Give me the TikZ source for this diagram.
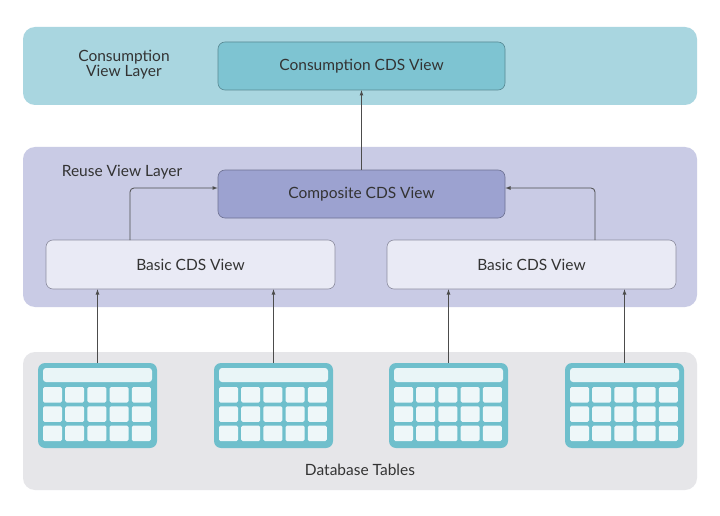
\documentclass[tikz,border=0pt]{standalone}
\usepackage{fontspec}
\setmainfont{Lato}
\begin{document}
\begin{tikzpicture}[x=1pt,y=-1pt,
  layer/.style={rounded corners=12pt},
  box/.style={rounded corners=7pt,draw=#1!70!black,line width=0.6pt,font=\fontsize{15.5}{18}\selectfont,text=black!80},
  lbl/.style={font=\fontsize{15.5}{18}\selectfont,text=black!80,align=center},
  arr/.style={-latex,draw=black!70,line width=0.8pt,rounded corners=4pt}]
\definecolor{consL}{HTML}{A9D6E0}
\definecolor{consB}{HTML}{7EC4D2}
\definecolor{reuseL}{HTML}{C9CBE5}
\definecolor{compB}{HTML}{9CA2D0}
\definecolor{basicB}{HTML}{E9EAF5}
\definecolor{dbL}{HTML}{E6E6E9}
\definecolor{tab}{HTML}{6FBFCC}
\useasboundingbox (0,0) rectangle (720,516);
\fill[white] (0,0) rectangle (720,516);
\fill[consL,layer] (23,27) rectangle (697,105);
\fill[reuseL,layer] (23,147) rectangle (697,307);
\fill[dbL,layer] (23,352) rectangle (697,490);
\node[lbl] (lc) at (124,65) {Consumption\\[-3pt]View Layer};
\node[lbl] (lr) at (122,172) {Reuse View Layer};
\node[lbl] (ld) at (360,470) {Database Tables};
\node[box=consB,fill=consB,minimum width=287pt,minimum height=48pt] (cons) at (361.5,66) {Consumption CDS View};
\node[box=compB,fill=compB,minimum width=287pt,minimum height=48pt] (comp) at (361.5,194) {Composite CDS View};
\node[box=reuseL,fill=basicB,minimum width=289pt,minimum height=49pt] (b1) at (190.5,264.5) {Basic CDS View};
\node[box=reuseL,fill=basicB,minimum width=289pt,minimum height=49pt] (b2) at (531.5,264.5) {Basic CDS View};
\foreach \i/\x in {1/38,2/214,3/389,4/565}{
  \fill[tab,rounded corners=7pt] (\x,363) rectangle ++(119,85);
  \fill[white!85!tab,rounded corners=3pt] (\x+5,368) rectangle ++(109,14);
  \foreach \c in {0,...,4}{\foreach \r in {0,1,2}{
    \fill[white!88!tab,rounded corners=1.5pt] (\x+5+\c*22.2,387+\r*19.3) rectangle ++(19,15.5);}}
  \coordinate (t\i) at (\x+59.5,363);
}
\draw[arr] (cons.south |- comp.north) -- (cons.south);
\draw[arr] (130,240) -- (130,188) -- (comp.west |- 0,188);
\draw[arr] (595,240) -- (595,188) -- (comp.east |- 0,188);
\draw[arr] (t1) -- (t1 |- b1.south);
\draw[arr] (t2) -- (t2 |- b1.south);
\draw[arr] (t3) -- (t3 |- b2.south);
\draw[arr] (t4) -- (t4 |- b2.south);
\end{tikzpicture}
\end{document}
